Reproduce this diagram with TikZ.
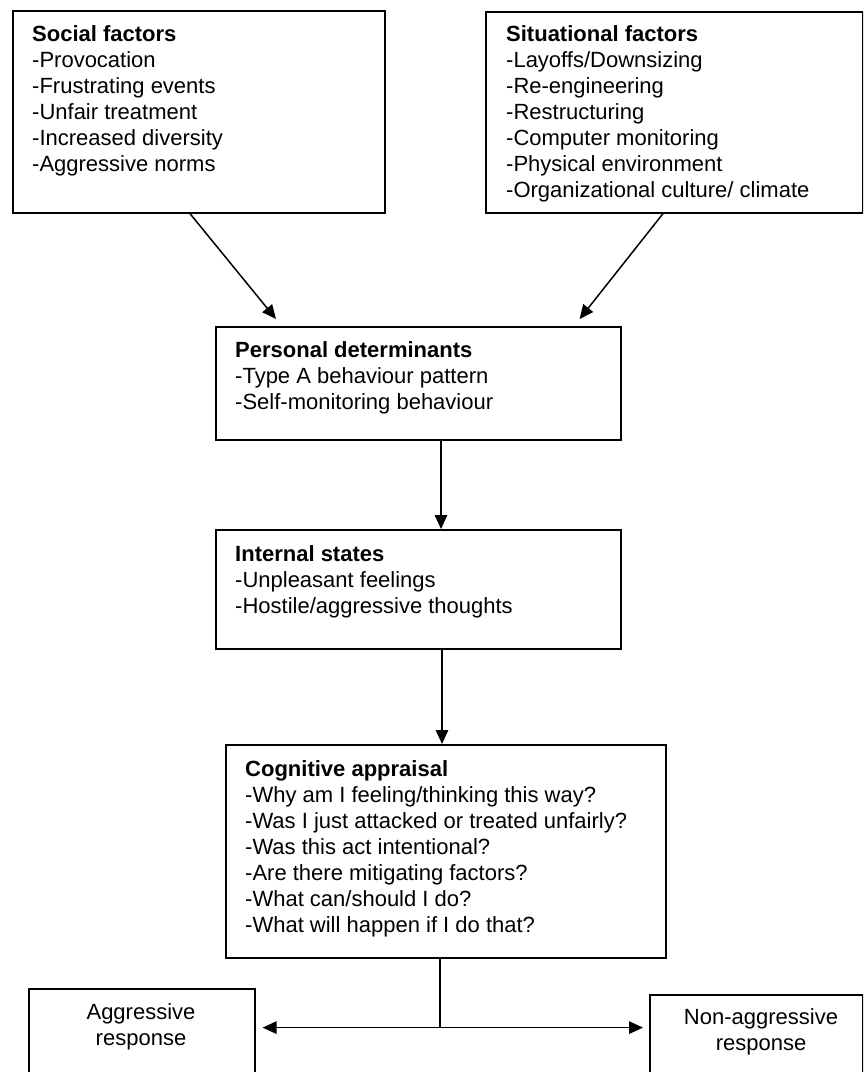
\documentclass[tikz,border=0pt]{standalone}
\usepackage{fontspec}
\setmainfont{Liberation Sans}
\usetikzlibrary{arrows.meta,calc}
\tikzset{
  box/.style={draw, line width=1.6pt, rectangle, anchor=north west, inner sep=0pt},
  txt/.style={anchor=base west, inner sep=0pt, font=\fontsize{22}{26}\selectfont},
  ctxt/.style={anchor=base, inner sep=0pt, font=\fontsize{22}{26}\selectfont},
  arr/.style={line width=1.5pt, -{Triangle[length=14pt,width=12.5pt]}},
  link/.style={line width=1.5pt},
}
\begin{document}
\begin{tikzpicture}[x=1pt, y=-1pt]
\useasboundingbox (0,0) rectangle (863,1072);
\fill[white] (0,0) rectangle (863,1072);
\clip (0,0) rectangle (863,1072);

% boxes
\node[box, minimum width=372pt, minimum height=202pt] (soc)  at (12,10)  {};
\node[box, minimum width=377pt, minimum height=201pt] (sit)  at (485,11) {};
\node[box, minimum width=405pt, minimum height=113pt] (pers) at (215,326) {};
\node[box, minimum width=405pt, minimum height=119pt] (int)  at (215,529) {};
\node[box, minimum width=440pt, minimum height=213pt] (cog)  at (225,744) {};
\node[box, minimum width=226pt, minimum height=112pt] (agg)  at (28,988)  {};
\node[box, minimum width=213pt, minimum height=106pt] (non)  at (649,994) {};

% box texts
\node[txt] (socT) at ($(soc.north west)+(20,31)$) {\begin{tabular}[t]{@{}l@{}}
\textbf{Social factors}\\
-Provocation\\
-Frustrating events\\
-Unfair treatment\\
-Increased diversity\\
-Aggressive norms\end{tabular}};

\node[txt] (sitT) at ($(sit.north west)+(21,30)$) {\begin{tabular}[t]{@{}l@{}}
\textbf{Situational factors}\\
-Layoffs/Downsizing\\
-Re-engineering\\
-Restructuring\\
-Computer monitoring\\
-Physical environment\\
-Organizational culture/ climate\end{tabular}};

\node[txt] (persT) at ($(pers.north west)+(20,31)$) {\begin{tabular}[t]{@{}l@{}}
\textbf{Personal determinants}\\
-Type A behaviour pattern\\
-Self-monitoring behaviour\end{tabular}};

\node[txt] (intT) at ($(int.north west)+(20,32)$) {\begin{tabular}[t]{@{}l@{}}
\textbf{Internal states}\\
-Unpleasant feelings\\
-Hostile/aggressive thoughts\end{tabular}};

\node[txt] (cogT) at ($(cog.north west)+(20,32)$) {\begin{tabular}[t]{@{}l@{}}
\textbf{Cognitive appraisal}\\
-Why am I feeling/thinking this way?\\
-Was I just attacked or treated unfairly?\\
-Was this act intentional?\\
-Are there mitigating factors?\\
-What can/should I do?\\
-What will happen if I do that?\end{tabular}};

\node[ctxt] (aggT) at ($(agg.north west)+(113,31)$) {\begin{tabular}[t]{@{}c@{}}
Aggressive\\response\end{tabular}};

\node[ctxt] (nonT) at ($(non.north west)+(112,30)$) {\begin{tabular}[t]{@{}c@{}}
Non-aggressive\\response\end{tabular}};

% connectors
\draw[arr] ($(soc.south west)+(178,0)$) -- ($(pers.north west)+(61,-7)$);
\draw[arr] ($(sit.south west)+(178,0)$) -- ($(pers.north east)+(-42,-7)$);
\draw[arr] ($(pers.south west)+(226,0)$) -- ($(int.north west)+(226,0)$);
\draw[arr] ($(int.south west)+(227,0)$) -- ($(cog.north west)+(217,0)$);

\coordinate (split) at ($(cog.south west)+(215,69)$);
\coordinate (aggE) at (split -| agg.east);
\coordinate (nonW) at (split -| non.west);
\draw[link] ($(cog.south west)+(215,0)$) -- (split);
\draw[arr] (split) -- ($(aggE)+(7,0)$);
\draw[arr] (split) -- ($(nonW)+(-6,0)$);
\end{tikzpicture}
\end{document}
